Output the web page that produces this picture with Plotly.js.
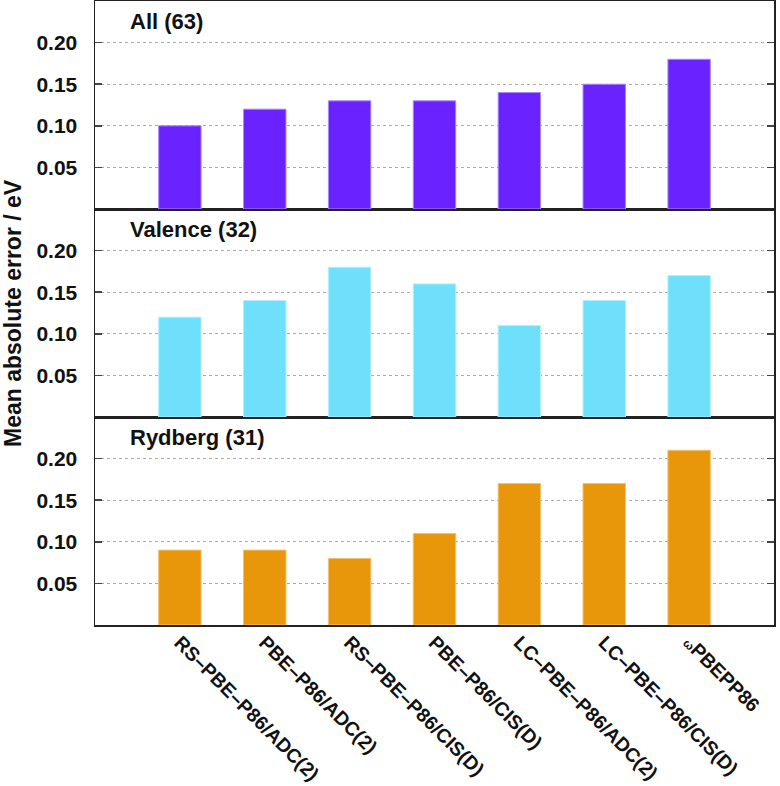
<!DOCTYPE html>
<html><head><meta charset="utf-8">
<script src="https://cdn.plot.ly/plotly-3.0.1.min.js"></script>
<style>html,body{margin:0;padding:0;background:#fff;}</style>
</head><body>
<div id="chart" style="width:780px;height:786px;"></div>
<script>
const categories = ["RS–PBE–P86/ADC(2)","PBE–P86/ADC(2)","RS–PBE–P86/CIS(D)","PBE–P86/CIS(D)","LC–PBE–P86/ADC(2)","LC–PBE–P86/CIS(D)","ωPBEPP86"];
const tickLabels = ["RS–PBE–P86/ADC(2)","PBE–P86/ADC(2)","RS–PBE–P86/CIS(D)","PBE–P86/CIS(D)","LC–PBE–P86/ADC(2)","LC–PBE–P86/CIS(D)","<span style=\"font-size:12px\">ω</span>PBEPP86"];
const allVals = [0.10, 0.12, 0.13, 0.13, 0.14, 0.15, 0.18];
const valenceVals = [0.12, 0.14, 0.18, 0.16, 0.11, 0.14, 0.17];
const rydbergVals = [0.09, 0.09, 0.08, 0.11, 0.17, 0.17, 0.21];
const panelTitles = ["All (63)", "Valence (32)", "Rydberg (31)"];
const yTicks = [0.05, 0.10, 0.15, 0.20];
const yTickText = ["0.05", "0.10", "0.15", "0.20"];

const F = "Liberation Sans, Arial, sans-serif";
const W = 780, H = 786, ml = 95, mr = 6, mt = 1, mb = 161;
const pw = W - ml - mr, ph = H - mt - mb;

function bar(vals, color, line, xa, ya) {
  return {type: 'bar', x: categories, y: vals, xaxis: xa, yaxis: ya, width: 0.5,
    marker: {color: color, line: {color: line, width: 1}}, hoverinfo: 'none', showlegend: false};
}
const data = [
  bar(allVals, '#6a22ff', '#a98bff', 'x3', 'y3'),
  bar(valenceVals, '#6ee0fc', '#b5effd', 'x2', 'y2'),
  bar(rydbergVals, '#e8960a', '#f2c070', 'x', 'y')
];

function yax(dom) {
  return {domain: dom, range: [0, 0.25], tickvals: yTicks, ticktext: yTickText,
    ticks: 'inside', ticklen: 7, tickwidth: 1.5, tickcolor: '#444',
    showline: true, linecolor: '#222', linewidth: 1.5, mirror: 'ticks',
    showgrid: true, gridcolor: '#ababab', griddash: 'dot', gridwidth: 1,
    zeroline: false, ticklabelstandoff: 12,
    tickfont: {family: F, size: 21, color: '#111', weight: 'bold'}, fixedrange: true};
}
function xax(anchor, showLabels) {
  return {anchor: anchor, type: 'category', categoryorder: 'array', categoryarray: categories,
    range: [-1, 7], tickvals: categories, ticktext: tickLabels,
    showticklabels: showLabels, ticks: '', tickangle: 45, ticklabelstandoff: -3,
    showline: true, linecolor: '#222', linewidth: 1.5, mirror: true,
    showgrid: false, zeroline: false,
    tickfont: {family: F, size: 19.5, color: '#111', weight: 'bold'}, fixedrange: true};
}

const titleY = [22, 229, 437];
const annotations = panelTitles.map((t, i) => ({
  text: t, xref: 'paper', yref: 'paper', x: (128 - ml) / pw, y: 1 - (titleY[i] - mt) / ph,
  xanchor: 'left', yanchor: 'middle', showarrow: false,
  font: {family: F, size: 22, color: '#111', weight: 'bold'}
}));
annotations.push({
  text: 'Mean absolute error / eV', xref: 'paper', yref: 'paper',
  x: (13 - ml) / pw, y: 1 - (313 - mt) / ph, xanchor: 'center', yanchor: 'middle',
  textangle: -90, showarrow: false, font: {family: F, size: 23, color: '#111', weight: 'bold'}
});

const layout = {
  width: W, height: H, margin: {l: ml, r: mr, t: mt, b: mb},
  paper_bgcolor: '#fff', plot_bgcolor: '#fff', bargap: 0.5,
  xaxis: xax('y', true), xaxis2: xax('y2', false), xaxis3: xax('y3', false),
  yaxis: yax([0, 1/3]), yaxis2: yax([1/3, 2/3]), yaxis3: yax([2/3, 1]),
  annotations: annotations, showlegend: false
};
Plotly.newPlot('chart', data, layout, {displayModeBar: false, staticPlot: true});
</script>
</body></html>
